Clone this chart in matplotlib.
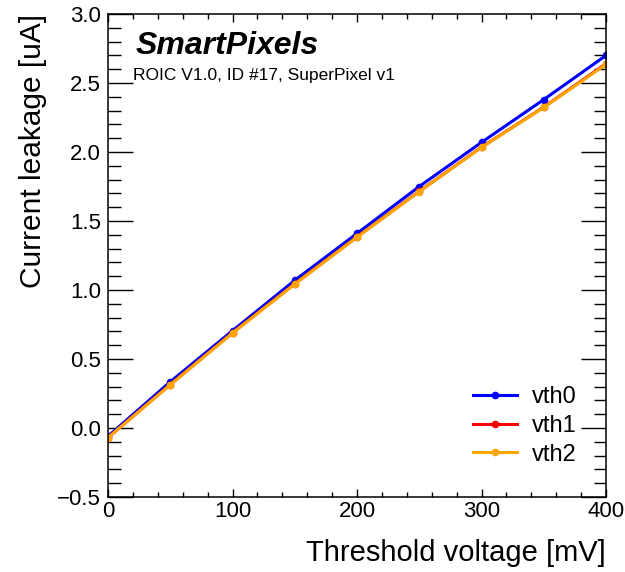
import matplotlib
matplotlib.use("Agg")
import matplotlib.pyplot as plt
from matplotlib.ticker import MultipleLocator

plt.rcParams['font.family'] = ['Liberation Sans', 'DejaVu Sans']

threshold_mv = [0, 50, 100, 150, 200, 250, 300, 350, 400]
vth0 = [-0.06, 0.335, 0.705, 1.07, 1.41, 1.75, 2.07, 2.38, 2.70]
vth1 = [-0.07, 0.315, 0.69, 1.045, 1.385, 1.715, 2.035, 2.325, 2.64]
vth2 = [-0.07, 0.313, 0.688, 1.043, 1.383, 1.713, 2.033, 2.323, 2.635]

series = [("vth0", vth0, "blue"), ("vth1", vth1, "red"), ("vth2", vth2, "orange")]

fig = plt.figure(figsize=(6.25, 5.72), dpi=100)
ax = fig.add_axes([0.1728, 0.1311, 0.7968, 0.8444])

for name, vals, col in series:
    ax.plot(threshold_mv, vals, color=col, lw=2.2, marker='o', ms=4.5, label=name)

ax.set_xlim(0, 400)
ax.set_ylim(-0.5, 3.0)
ax.xaxis.set_major_locator(MultipleLocator(100))
ax.xaxis.set_minor_locator(MultipleLocator(20))
ax.yaxis.set_major_locator(MultipleLocator(0.5))
ax.yaxis.set_minor_locator(MultipleLocator(0.1))

ax.tick_params(axis='both', which='both', direction='in', top=True, right=True,
               width=1, labelsize=16)
ax.tick_params(axis='x', which='major', length=6, pad=3)
ax.tick_params(axis='x', which='minor', length=3.5)
ax.tick_params(axis='y', which='major', length=18, pad=5)
ax.tick_params(axis='y', which='minor', length=9)
for s in ax.spines.values():
    s.set_linewidth(1.1)

ax.set_xlabel("Threshold voltage [mV]", fontsize=21, loc='right', labelpad=12)
ax.set_ylabel("Current leakage [uA]", fontsize=21.5, loc='top', labelpad=7)

ax.text(0.055, 0.965, "SmartPixels", transform=ax.transAxes, fontsize=23,
        fontweight='bold', fontstyle='italic', va='top', ha='left')
ax.text(0.05, 0.888, "ROIC V1.0, ID #17, SuperPixel v1", transform=ax.transAxes,
        fontsize=12.5, va='top', ha='left')

leg = ax.legend(loc='lower right', frameon=False, fontsize=17, numpoints=1,
                handlelength=1.9, handletextpad=0.6, labelspacing=0.28,
                bbox_to_anchor=(0.983, 0.021))

fig.savefig("out.png", dpi=100)
